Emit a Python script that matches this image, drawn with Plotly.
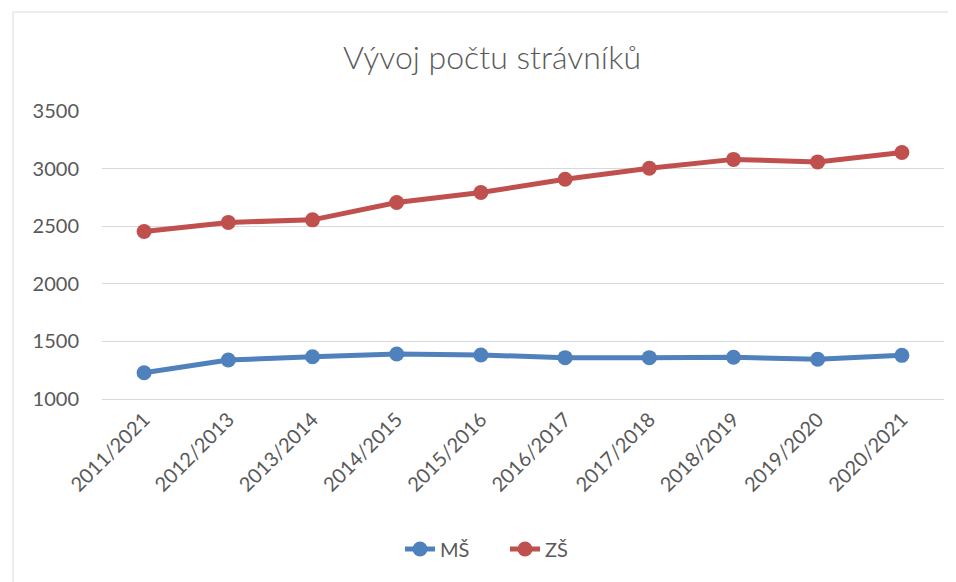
import plotly.graph_objects as go

categories = ["2011/2021", "2012/2013", "2013/2014", "2014/2015", "2015/2016",
              "2016/2017", "2017/2018", "2018/2019", "2019/2020", "2020/2021"]
ms_values = [1228, 1339, 1367, 1391, 1382, 1359, 1359, 1362, 1345, 1379]
zs_values = [2454, 2533, 2555, 2706, 2793, 2907, 3003, 3080, 3058, 3140]
y_ticks = [1000, 1500, 2000, 2500, 3000, 3500]

FONT = "Lato, 'Open Sans', sans-serif"
TXT = "#595959"

fig = go.Figure()
fig.add_trace(go.Scatter(x=categories, y=ms_values, name="MŠ", mode="lines+markers",
                         line=dict(color="#4F81BD", width=5),
                         marker=dict(color="#4F81BD", size=15)))
fig.add_trace(go.Scatter(x=categories, y=zs_values, name="ZŠ", mode="lines+markers",
                         line=dict(color="#C0504D", width=5),
                         marker=dict(color="#C0504D", size=15)))

fig.update_layout(
    width=956, height=582,
    margin=dict(l=94, r=20, t=103, b=191),
    paper_bgcolor="white", plot_bgcolor="white",
    font=dict(family=FONT, color=TXT, size=20),
    title=dict(text="Vývoj počtu strávníků", x=484/956, xanchor="center",
               y=1-50/582, yanchor="middle", yref="container",
               font=dict(family=FONT, size=32, color=TXT, weight=300)),
    showlegend=True,
    legend=dict(orientation="h", xref="container", yref="container",
                x=497/956, xanchor="center", y=1-541/582, yanchor="middle",
                font=dict(size=20, color=TXT), tracegroupgap=0,
                entrywidth=60, entrywidthmode="pixels"),
    xaxis=dict(type="category", showgrid=False, showline=True, linecolor="#D9D9D9",
               linewidth=1, ticks="", tickangle=-45, tickfont=dict(size=20, color=TXT),
               range=[-0.5, 9.5]),
    yaxis=dict(range=[1000, 3500], tickvals=y_ticks, showgrid=True, gridcolor="#D9D9D9",
               gridwidth=1, zeroline=False, showline=False, ticks="",
               tickfont=dict(size=20, color=TXT), ticklabelstandoff=22),
    shapes=[dict(type="rect", xref="paper", yref="paper",
                 x0=(5-94)/842, x1=1.2, y0=-0.8, y1=(391-4)/288,
                 line=dict(color="#D9D9D9", width=1), fillcolor="rgba(0,0,0,0)", layer="below")],
)

fig.write_html("out.html")
